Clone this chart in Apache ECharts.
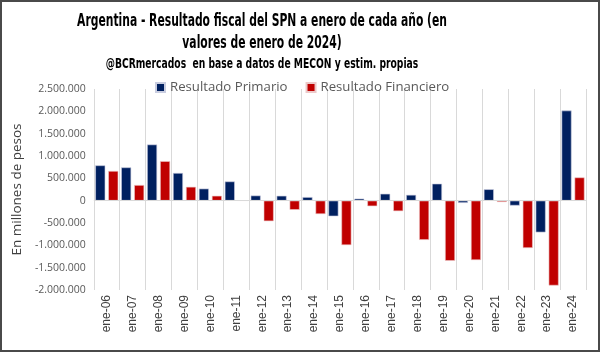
<!DOCTYPE html>
<html><head><meta charset="utf-8">
<script src="https://cdn.jsdelivr.net/npm/echarts@6/dist/echarts.min.js"></script>
<style>
html,body{margin:0;padding:0;background:#fff;}
#c{width:600px;height:352px;box-sizing:border-box;border:2px solid #4a4a4a;}
</style></head>
<body><div id="c"></div>
<script>
const categories = ["ene-06","ene-07","ene-08","ene-09","ene-10","ene-11","ene-12","ene-13","ene-14","ene-15","ene-16","ene-17","ene-18","ene-19","ene-20","ene-21","ene-22","ene-23","ene-24"];
const primario = [790000,745000,1257000,620000,270000,430000,115000,110000,80000,-350000,45000,155000,130000,380000,-50000,255000,-110000,-710000,2017000];
const financiero = [665000,350000,884000,310000,110000,5000,-460000,-205000,-300000,-995000,-125000,-235000,-878000,-1346000,-1330000,-30000,-1060000,-1900000,520000];
const titleLines = ["Argentina - Resultado fiscal del SPN a enero de cada año (en","valores de enero de 2024)"];
const subtitle = "@BCRmercados  en base a datos de MECON y estim. propias";

const chart = echarts.init(document.getElementById('c'), null, {renderer:'canvas'});
const fmt = v => {
  const s = Math.abs(v).toString().replace(/\B(?=(\d{3})+(?!\d))/g, '.');
  return (v < 0 ? '-' : '') + s;
};
const titleFont = '"DejaVu Sans Condensed",sans-serif';
const tText = (txt, y, size, sx) => ({
  type:'text', x:260, y:y, scaleX:sx, scaleY:1, originX:0, originY:0, silent:true,
  style:{text:txt, font:'bold '+size+'px '+titleFont, fill:'#000', textAlign:'center', textVerticalAlign:'middle'}
});
chart.setOption({
  animation:false,
  graphic:[
    tText(titleLines[0], 19, 18, 0.665),
    tText(titleLines[1], 41, 18, 0.665),
    tText(subtitle, 62, 14, 0.73)
  ],
  legend:{
    top:74, left:148, itemWidth:9, itemHeight:9, itemGap:18, icon:'rect',
    textStyle:{fontFamily:'"Open Sans",sans-serif', fontSize:13.2, color:'#595959'},
    data:['Resultado Primario','Resultado Financiero']
  },
  grid:{left:76, right:12, top:87, bottom:60, containLabel:false},
  xAxis:{
    type:'category', data:categories, boundaryGap:true,
    axisLine:{show:false, onZero:false}, axisTick:{show:false},
    splitLine:{show:true, lineStyle:{color:'#d9d9d9', width:1}},
    axisLabel:{rotate:90, margin:5, fontFamily:'"Liberation Sans",Arial,sans-serif', fontSize:12, color:'#404040', interval:0}
  },
  yAxis:{
    type:'value', min:-2000000, max:2500000, interval:500000,
    name:'En millones de pesos', nameLocation:'middle', nameGap:66,
    nameTextStyle:{fontFamily:'"Open Sans",sans-serif', fontSize:13.5, color:'#404040'},
    axisLine:{show:false}, axisTick:{show:false}, splitLine:{show:false},
    axisLabel:{formatter:fmt, fontFamily:'"Open Sans",sans-serif', fontSize:10.5, color:'#595959', margin:8}
  },
  series:[
    {name:'Resultado Primario', type:'bar', data:primario, barWidth:10, barGap:'30%',
     itemStyle:{color:'#002060', borderColor:'#c9cde0', borderWidth:0.6},
     markLine:{silent:true, symbol:'none', label:{show:false},
       lineStyle:{color:'#d9d9d9', type:'solid', width:1}, data:[{yAxis:0}]}},
    {name:'Resultado Financiero', type:'bar', data:financiero, barWidth:10,
     itemStyle:{color:'#c00000', borderColor:'#ecc9c9', borderWidth:0.6}}
  ]
});
</script></body></html>
